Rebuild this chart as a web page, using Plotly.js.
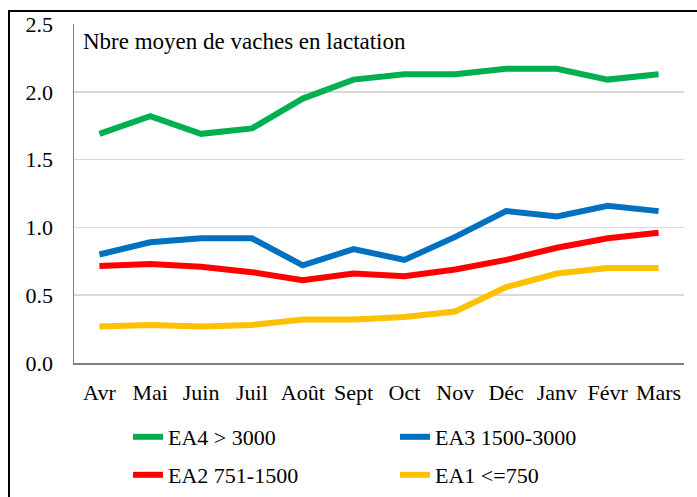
<!DOCTYPE html>
<html>
<head>
<meta charset="utf-8">
<script src="https://cdn.plot.ly/plotly-3.0.1.min.js"></script>
<style>html,body{margin:0;padding:0;background:#fff;}#chart{width:697px;height:497px;}</style>
</head>
<body>
<div id="chart"></div>
<script>
const months = ["Avr","Mai","Juin","Juil","Août","Sept","Oct","Nov","Déc","Janv","Févr","Mars"];
const ea4 = [1.69,1.82,1.69,1.73,1.95,2.09,2.13,2.13,2.17,2.17,2.09,2.13];
const ea3 = [0.80,0.89,0.92,0.92,0.72,0.84,0.76,0.93,1.12,1.08,1.16,1.12];
const ea2 = [0.715,0.73,0.71,0.67,0.61,0.66,0.64,0.69,0.76,0.85,0.92,0.96];
const ea1 = [0.27,0.28,0.27,0.28,0.32,0.32,0.34,0.38,0.56,0.66,0.70,0.70];
const names = ["EA4 > 3000","EA3 1500-3000","EA2 751-1500","EA1 <=750"];
const colors = ["#00B050","#0070C0","#FF0000","#FFC000"];
const yTickVals = [0,0.5,1,1.5,2,2.5];

const serif = "'Liberation Serif', 'Times New Roman', 'DejaVu Serif', serif";
function tr(y, i, leg){
  return {x: months, y: y, name: names[i], type: 'scatter', mode: 'lines',
    line: {color: colors[i], width: 6}, legend: leg, hoverinfo: 'skip'};
}
const data = [tr(ea4,0,'legend'), tr(ea3,1,'legend'), tr(ea2,2,'legend2'), tr(ea1,3,'legend2')];

const L = 74, R = 13, T = 24, B = 134;
const W = 697 - L - R, H = 497 - T - B;
const px = v => (v - L) / W;
const py = v => (497 - B - v) / H;

const legCommon = {orientation: 'h', xanchor: 'left', yanchor: 'middle',
  font: {family: serif, size: 22, color: '#000'}, entrywidth: 222, entrywidthmode: 'pixels',
  bgcolor: 'rgba(0,0,0,0)', traceorder: 'normal'};

const layout = {
  width: 697, height: 497,
  margin: {l: L, r: R, t: T, b: B, autoexpand: false},
  paper_bgcolor: '#fff', plot_bgcolor: '#fff',
  font: {family: serif, size: 22, color: '#000'},
  showlegend: true,
  xaxis: {type: 'category', range: [-0.5, 11.5], showgrid: false, zeroline: false, automargin: false,
    showline: true, linecolor: '#7f7f7f', linewidth: 1.5, ticks: '', ticklabelstandoff: 9,
    tickfont: {family: serif, size: 22, color: '#000'}, fixedrange: true},
  yaxis: {range: [0, 2.5], tickvals: yTickVals, tickformat: '.1f', showgrid: true, automargin: false,
    gridcolor: '#d9d9d9', gridwidth: 1.5, zeroline: false, showline: true, linecolor: '#7f7f7f',
    linewidth: 1.5, ticks: '', ticklabelstandoff: 15,
    tickfont: {family: serif, size: 22, color: '#000'}, fixedrange: true},
  legend: Object.assign({}, legCommon, {x: px(128), y: py(437)}),
  legend2: Object.assign({}, legCommon, {x: px(128), y: py(475)}),
  annotations: [{xref: 'paper', yref: 'paper', x: px(81), y: py(42), xanchor: 'left', yanchor: 'middle',
    text: 'Nbre moyen de vaches en lactation', showarrow: false,
    font: {family: serif, size: 23, color: '#000'}}],
  shapes: [{type: 'rect', xref: 'paper', yref: 'paper', x0: px(9), x1: px(760), y0: py(560), y1: py(11),
    line: {color: '#000', width: 2}, fillcolor: 'rgba(0,0,0,0)', layer: 'above'}]
};

Plotly.newPlot('chart', data, layout, {displayModeBar: false, staticPlot: true});
</script>
</body>
</html>
